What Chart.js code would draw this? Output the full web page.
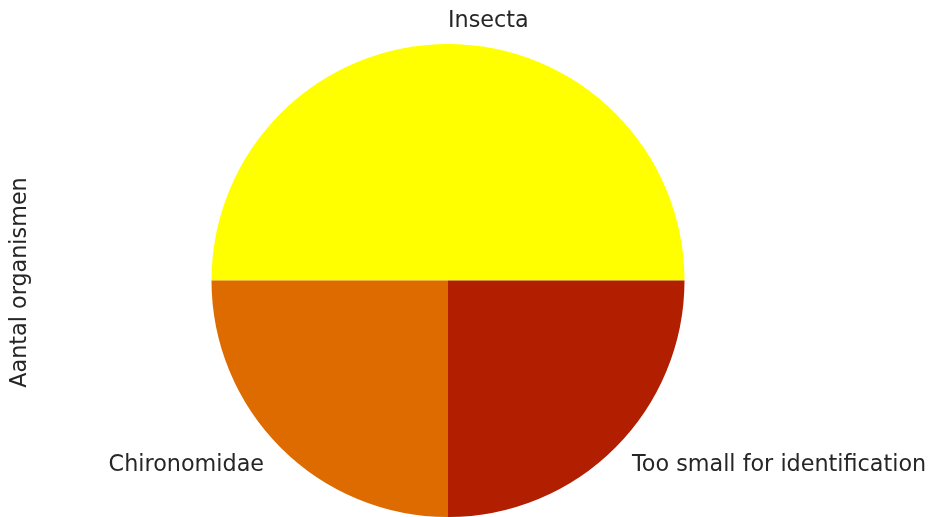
<!DOCTYPE html>
<html>
<head>
<meta charset="utf-8">
<script src="https://cdn.jsdelivr.net/npm/chart.js@4/dist/chart.umd.min.js"></script>
<style>
  html, body { margin: 0; padding: 0; background: #fff; }
  #wrap { width: 931px; height: 517px; position: relative; }
</style>
</head>
<body>
<div id="wrap"><canvas id="pieChart"></canvas></div>
<script>
// Slices listed clockwise from 9 o'clock
const categories = ['Insecta', 'Too small for identification', 'Chironomidae'];
const counts = [2, 1, 1];
const sliceColors = ['#ffff00', '#b21e00', '#dd6b00'];
const yTitle = 'Aantal organismen';

const FONT = '22.3px "DejaVu Sans", sans-serif';

// Draws category names just outside each wedge, plus the rotated y title
const outerLabels = {
    id: 'outerLabels',
    afterDraw(chart) {
        const ctx = chart.ctx;
        const arcs = chart.getDatasetMeta(0).data;
        ctx.save();
        ctx.font = FONT;
        ctx.fillStyle = '#262626';
        arcs.forEach((arc, i) => {
            const mid = (arc.startAngle + arc.endAngle) / 2;
            const r = arc.outerRadius * 1.1;
            const x = arc.x + Math.cos(mid) * r;
            const y = arc.y + Math.sin(mid) * r;
            // labels on the right half (and straight up) start at the anchor
            ctx.textAlign = Math.cos(mid) > -1e-6 ? 'left' : 'right';
            ctx.textBaseline = 'middle';
            ctx.fillText(categories[i], x, y + 1);
        });
        // y axis title
        ctx.translate(20, arcs[0].y + 2);
        ctx.rotate(-Math.PI / 2);
        ctx.textAlign = 'center';
        ctx.textBaseline = 'middle';
        ctx.fillText(yTitle, 0, 0);
        ctx.restore();
    }
};

new Chart(document.getElementById('pieChart'), {
    type: 'pie',
    data: {
        labels: categories,
        datasets: [{
            data: counts,
            backgroundColor: sliceColors,
            borderWidth: 0
        }]
    },
    options: {
        responsive: true,
        maintainAspectRatio: false,
        animation: false,
        rotation: -90,
        layout: {
            padding: { top: 44, bottom: 0, left: 100, right: 135 }
        },
        plugins: {
            legend: { display: false },
            tooltip: { enabled: false }
        }
    },
    plugins: [outerLabels]
});
</script>
</body>
</html>
